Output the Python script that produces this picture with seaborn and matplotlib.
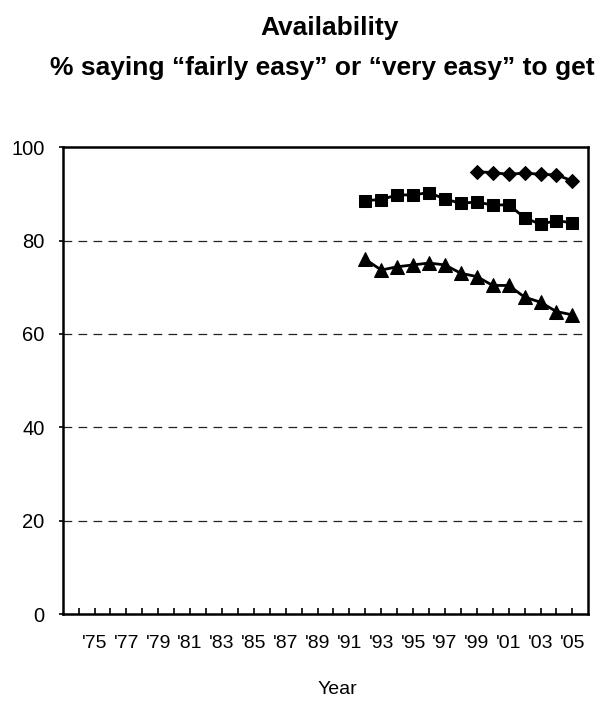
import matplotlib
matplotlib.use("Agg")
import matplotlib.pyplot as plt
from matplotlib.ticker import FixedLocator
import seaborn as sns
import pandas as pd

# ---- data ----
years_long = list(range(1992, 2006))
squares = [88.6, 88.8, 89.8, 89.8, 90.3, 88.9, 88.0, 88.3, 87.6, 87.7, 84.9, 83.5, 84.3, 83.8]
triangles = [76.0, 73.7, 74.4, 74.8, 75.2, 74.8, 73.0, 72.3, 70.4, 70.4, 67.9, 66.8, 64.8, 64.1]
years_short = list(range(1999, 2006))
diamonds = [94.75, 94.6, 94.2, 94.5, 94.2, 94.1, 92.8]

label_years = list(range(1975, 2006, 2))
tick_labels = ["'" + str(y)[2:] for y in label_years]
minor_years = list(range(1974, 2006, 2))
y_ticks = [0, 20, 40, 60, 80, 100]

title = "Availability"
subtitle = "% saying \u201cfairly easy\u201d or \u201cvery easy\u201d to get"
xlabel = "Year"

# ---- styling ----
sns.set_theme(style="white")
plt.rcParams["font.family"] = ["Liberation Sans", "DejaVu Sans"]

W, H = 610, 702
fig = plt.figure(figsize=(W / 100, H / 100), dpi=100)
left, right, top, bottom = 62.7, 588.3, 147.3, 614.0
ax = fig.add_axes([left / W, 1 - bottom / H, (right - left) / W, (bottom - top) / H])

df_sq = pd.DataFrame({"year": years_long, "value": squares})
df_tri = pd.DataFrame({"year": years_long, "value": triangles})
df_dia = pd.DataFrame({"year": years_short, "value": diamonds})

common = dict(ax=ax, color="black", linewidth=2.0, markeredgecolor="black",
              markerfacecolor="black", legend=False)
sns.lineplot(data=df_dia, x="year", y="value", marker="D", markersize=7.5, **common)
sns.lineplot(data=df_sq, x="year", y="value", marker="s", markersize=8.5, **common)
sns.lineplot(data=df_tri, x="year", y="value", marker="^", markersize=9.5, **common)

ax.set_xlim(1973, 2006)
ax.set_ylim(0, 100)

ax.xaxis.set_major_locator(FixedLocator(label_years))
ax.xaxis.set_minor_locator(FixedLocator(minor_years))
ax.set_xticklabels(tick_labels)
ax.set_yticks(y_ticks)
ax.set_yticklabels([str(v) for v in y_ticks])

ax.tick_params(axis="x", which="both", direction="in", length=4.5, width=1.2,
               colors="black", labelsize=14, pad=15, bottom=True)
ax.tick_params(axis="y", which="major", direction="out", length=3, width=1.2,
               colors="black", labelsize=14.5, pad=10, left=True)

for s in ax.spines.values():
    s.set_color("black")
    s.set_linewidth(1.8)

for v in [20, 40, 60, 80]:
    ax.axhline(v, color="#222222", linewidth=0.9, linestyle=(0, (7, 5)), zorder=0)

ax.set_xlabel("")
ax.set_ylabel("")

fig.text(337 / W, 1 - 690 / H, xlabel, ha="center", va="center",
         fontsize=14, color="black")
fig.text(330 / W, 1 - 28 / H, title, ha="center", va="center",
         fontsize=19, fontweight="bold", color="black")
fig.text(322 / W, 1 - 68 / H, subtitle, ha="center", va="center",
         fontsize=19, fontweight="bold", color="black")

fig.savefig("out.png", dpi=100)
